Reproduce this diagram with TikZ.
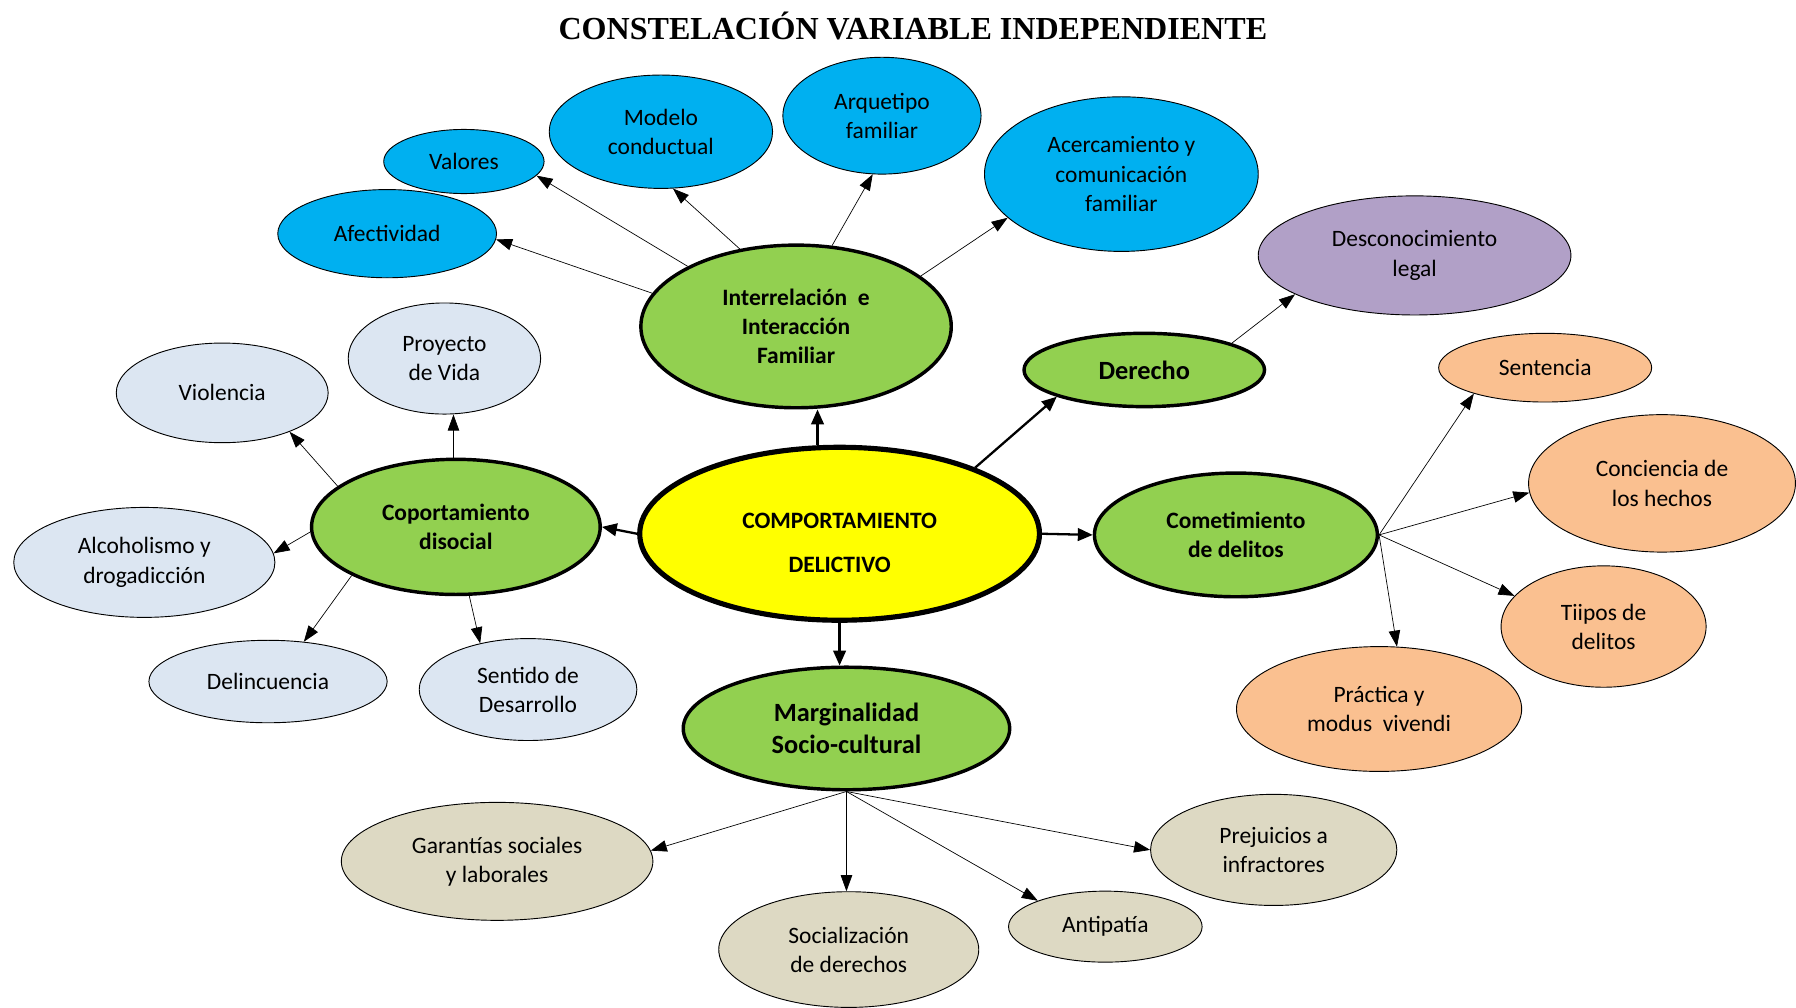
\documentclass[tikz,border=0pt]{standalone}
\usepackage{fontspec}
\setmainfont{Carlito}
\newfontfamily\titlefont{Liberation Serif}
\usetikzlibrary{shapes.geometric,arrows.meta}
\definecolor{cblue}{HTML}{00B0F0}
\definecolor{cpurple}{HTML}{B1A0C7}
\definecolor{cgreen}{HTML}{92D050}
\definecolor{cyellow}{HTML}{FFFF00}
\definecolor{corange}{HTML}{FAC090}
\definecolor{clight}{HTML}{DCE6F2}
\definecolor{ctan}{HTML}{DDD9C3}
\tikzset{
  bub/.style={ellipse, draw=black, line width=0.8pt, inner sep=0pt, align=center,
    font=\fontsize{20.5}{25.5}\selectfont},
  mainbub/.style={ellipse, draw=black, line width=3pt, inner sep=0pt, align=center, fill=cgreen,
    font=\fontsize{20.5}{25.5}\selectfont\bfseries},
  bluebub/.style={bub, fill=cblue},
  lightbub/.style={bub, fill=clight},
  orbub/.style={bub, fill=corange},
  tanbub/.style={bub, fill=ctan},
  thinarr/.style={line width=0.6pt, -{Triangle[length=14pt,width=10pt]}},
  thickarr/.style={line width=2pt, -{Triangle[length=13pt,width=11pt]}},
}
\begin{document}
\begin{tikzpicture}[x=1pt,y=-1pt]
\useasboundingbox (0,0) rectangle (1568,880);
% title
\node[font=\titlefont\fontsize{28}{30}\selectfont\bfseries] (title) at (797,23) {CONSTELACIÓN VARIABLE INDEPENDIENTE};
% center
\node[ellipse, draw=black, line width=4.5pt, fill=cyellow, inner sep=0pt,
  minimum width=349pt, minimum height=151pt] (cen) at (733,466) {};
\node[align=center, font=\fontsize{20.5}{25.5}\selectfont\bfseries] (centext) at (733,474) {COMPORTAMIENTO\\[13pt]DELICTIVO};
% main green nodes
\node[mainbub, minimum width=271pt, minimum height=142pt] (inter) at (695,285) {Interrelación~ e\\Interacción\\Familiar};
\node[mainbub, minimum width=210pt, minimum height=64pt, font=\fontsize{23}{28}\selectfont\bfseries] (der) at (999,323) {Derecho};
\node[mainbub, minimum width=247pt, minimum height=108pt] (com) at (1079,467) {Cometimiento\\de delitos};
\node[mainbub, minimum width=252pt, minimum height=118pt] (cop) at (398,460) {Coportamiento\\disocial};
\node[mainbub, minimum width=285pt, minimum height=107pt, font=\fontsize{23}{28}\selectfont\bfseries] (mar) at (739,636) {Marginalidad\\Socio-cultural};
% blue
\node[bluebub, minimum width=140pt, minimum height=56pt] (val) at (405,141) {Valores};
\node[bluebub, minimum width=195pt, minimum height=99pt] (mod) at (577,115) {Modelo\\conductual};
\node[bluebub, minimum width=173pt, minimum height=102pt] (arq) at (770,101) {Arquetipo\\familiar};
\node[bluebub, minimum width=239pt, minimum height=135pt] (ace) at (979,152) {Acercamiento y\\comunicación\\familiar};
\node[bluebub, minimum width=191pt, minimum height=77pt] (afe) at (338,204) {Afectividad};
% purple
\node[bub, fill=cpurple, minimum width=273pt, minimum height=104pt] (des) at (1235,223) {Desconocimiento\\legal};
% orange
\node[orbub, minimum width=186pt, minimum height=60pt] (sen) at (1349,321) {Sentencia};
\node[orbub, minimum width=233pt, minimum height=120pt] (con) at (1451,422) {Conciencia de\\los hechos};
\node[orbub, minimum width=179pt, minimum height=106pt] (tii) at (1400,547) {Tiipos de\\delitos};
\node[orbub, minimum width=249pt, minimum height=109pt] (pra) at (1204,619) {Práctica y\\modus~ vivendi};
% light
\node[lightbub, minimum width=185pt, minimum height=87pt] (vio) at (194,343) {Violencia};
\node[lightbub, minimum width=168pt, minimum height=97pt] (pro) at (388,313) {Proyecto\\de Vida};
\node[lightbub, minimum width=228pt, minimum height=96pt] (alc) at (126,491) {Alcoholismo y\\drogadicción};
\node[lightbub, minimum width=208pt, minimum height=72pt] (del) at (234,595) {Delincuencia};
\node[lightbub, minimum width=190pt, minimum height=89pt] (sed) at (461,602) {Sentido de\\Desarrollo};
% tan
\node[tanbub, minimum width=272pt, minimum height=103pt] (gar) at (434,752) {Garantías sociales\\y laborales};
\node[tanbub, minimum width=227pt, minimum height=101pt] (soc) at (741,829) {Socialización\\de derechos};
\node[tanbub, minimum width=169pt, minimum height=62pt] (ant) at (965,809) {Antipatía};
\node[tanbub, minimum width=215pt, minimum height=97pt] (pre) at (1112,742) {Prejuicios a\\infractores};
% interrelacion arrows
\draw[thinarr] (inter.167) -- (afe.-3.6);
\draw[thinarr] (inter.151.8) -- (val.-11.8);
\draw[thinarr] (inter.126.6) -- (mod.-78.7);
\draw[thinarr] (inter.66) -- (arq.261.3);
\draw[thinarr] (inter.22.8) -- (ace.201.2);
% central arrows
\draw[thickarr] (cen.104) -- (cen.104 |- inter.south);
\draw[thickarr] (cen.26) -- (der.197.5);
\draw[thickarr] (cen.east) -- (com.west);
\draw[thickarr] (cen.west) -- (cop.east);
\draw[thickarr] (cen.south) -- (cen.south |- mar.north);
% derecho
\draw[thinarr] (der.17.5) -- (des.198);
% cometimiento
\draw[thinarr] (com.east) -- (sen.200.1);
\draw[thinarr] (com.east) -- (con.184.5);
\draw[thinarr] (com.east) -- (tii.161.1);
\draw[thinarr] (com.east) -- (pra.74);
% coportamiento
\draw[thinarr] (cop.161.6) -- (vio.-30);
\draw[thinarr] (cop.92) -- (cop.92 |- pro.south);
\draw[thinarr] (cop.182.7) -- (alc.4);
\draw[thinarr] (cop.205.3) -- (del.48.4);
\draw[thinarr] (cop.-79.4) -- (sed.136.3);
% marginalidad
\draw[thinarr] (mar.south) -- (gar.4.3);
\draw[thinarr] (mar.south) -- (mar.south |- soc.north);
\draw[thinarr] (mar.south) -- (ant.159.2);
\draw[thinarr] (mar.south) -- (pre.180.5);
\end{tikzpicture}
\end{document}
